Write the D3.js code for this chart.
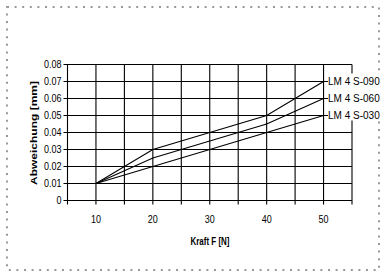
<!DOCTYPE html>
<html>
<head>
<meta charset="utf-8">
<script src="https://cdn.jsdelivr.net/npm/d3@7/dist/d3.min.js"></script>
<style>
  html, body { margin: 0; padding: 0; background: #fff; }
  svg { display: block; }
  text { font-family: "Liberation Sans", Arial, sans-serif; fill: #000; }
</style>
</head>
<body>
<script>
// data
var kraft = [10, 20, 30, 40, 50];
var seriesNames = ["LM 4 S-090", "LM 4 S-060", "LM 4 S-030"];
var s090 = [0.01, 0.03, 0.04, 0.05, 0.07];
var s060 = [0.01, 0.025, 0.035, 0.045, 0.06];
var s030 = [0.01, 0.02, 0.03, 0.04, 0.05];
var yTicks = [0, 0.01, 0.02, 0.03, 0.04, 0.05, 0.06, 0.07, 0.08];
var xGrid = [5, 10, 15, 20, 25, 30, 35, 40, 45, 50, 55];
var xLabels = [10, 20, 30, 40, 50];

var W = 380, H = 271;
var svg = d3.select("body").append("svg").attr("width", W).attr("height", H);

// dotted frame round the whole thing
svg.append("rect")
  .attr("x", 7).attr("y", 7).attr("width", 372).attr("height", 263)
  .attr("fill", "none").attr("stroke", "#999").attr("stroke-width", 2)
  .attr("stroke-dasharray", "2,5.6");

var x = d3.scaleLinear().domain([5, 55]).range([67.5, 352]);
var y = d3.scaleLinear().domain([0, 0.08]).range([200.5, 64.5]);

var g = svg.append("g");

// grid
g.selectAll("line.vgrid").data(xGrid).enter().append("line")
  .attr("class", "vgrid")
  .attr("x1", function(d) { return x(d); }).attr("x2", function(d) { return x(d); })
  .attr("y1", y(0.08)).attr("y2", y(0) + 4)
  .attr("stroke", "#000").attr("stroke-width", 1.1);

g.selectAll("line.hgrid").data(yTicks).enter().append("line")
  .attr("class", "hgrid")
  .attr("x1", x(5) - 4).attr("x2", x(55))
  .attr("y1", function(d) { return y(d); }).attr("y2", function(d) { return y(d); })
  .attr("stroke", "#000").attr("stroke-width", 1.1);

// series lines
var series = [s090, s060, s030];
var line = d3.line()
  .x(function(d, i) { return x(kraft[i]); })
  .y(function(d) { return y(d); });

g.selectAll("path.series").data(series).enter().append("path")
  .attr("class", "series")
  .attr("d", function(d) { return line(d); })
  .attr("fill", "none").attr("stroke", "#000").attr("stroke-width", 1.1);

// y tick labels (slightly narrow, like the original)
g.selectAll("text.ytick").data(yTicks).enter().append("text")
  .attr("class", "ytick")
  .attr("transform", function(d) { return "translate(" + (x(5) - 6) + "," + y(d) + ") scale(0.9,1)"; })
  .attr("dy", "0.35em")
  .attr("text-anchor", "end")
  .style("font-size", "10px")
  .text(function(d) { return d === 0 ? "0" : d3.format(".2f")(d); });

// x tick labels
g.selectAll("text.xtick").data(xLabels).enter().append("text")
  .attr("class", "xtick")
  .attr("transform", function(d) { return "translate(" + x(d) + ",219) scale(0.9,1)"; })
  .attr("dy", "0.35em")
  .attr("text-anchor", "middle")
  .style("font-size", "10px")
  .text(function(d) { return d; });

// labels at the line ends, on a white patch
var last = series.map(function(s) { return s[s.length - 1]; });
g.append("rect")
  .attr("x", 326).attr("y", y(d3.max(last)) - 8)
  .attr("width", W - 326)
  .attr("height", y(d3.min(last)) - y(d3.max(last)) + 13)
  .attr("fill", "#fff");

g.selectAll("line.lead").data(last).enter().append("line")
  .attr("class", "lead")
  .attr("x1", x(50)).attr("x2", 328)
  .attr("y1", function(d) { return y(d); }).attr("y2", function(d) { return y(d); })
  .attr("stroke", "#000");

g.selectAll("text.lbl").data(last).enter().append("text")
  .attr("class", "lbl")
  .attr("x", 328)
  .attr("y", function(d) { return y(d); })
  .attr("dy", "0.35em")
  .style("font-size", "10px")
  .text(function(d, i) { return seriesNames[i]; });

// axis titles
svg.append("text")
  .attr("transform", "translate(210,241) scale(0.8,1)")
  .attr("dy", "0.35em")
  .attr("text-anchor", "middle")
  .style("font-size", "10px").style("font-weight", "bold")
  .text("Kraft F [N]");

svg.append("text")
  .attr("transform", "translate(34,133) rotate(-90) scale(1,0.8)")
  .attr("dy", "0.35em")
  .attr("text-anchor", "middle")
  .style("font-size", "12px").style("font-weight", "bold")
  .text("Abweichung [mm]");
</script>
</body>
</html>
